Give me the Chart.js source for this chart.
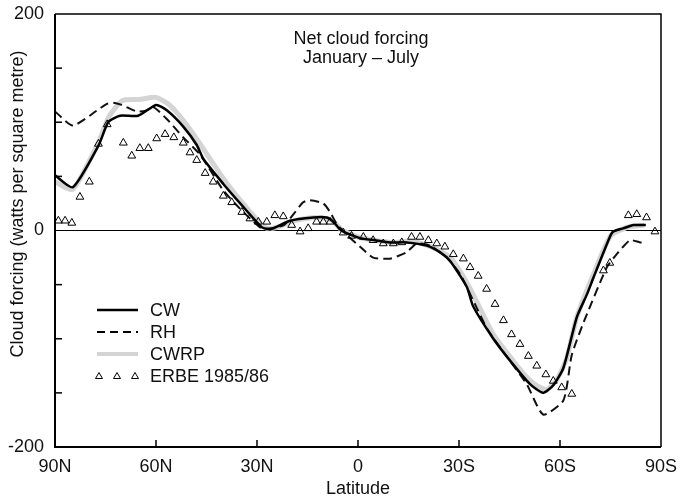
<!DOCTYPE html>
<html>
<head>
<meta charset="utf-8">
<script src="https://cdn.jsdelivr.net/npm/chart.js@4.4.0/dist/chart.umd.min.js"></script>
<style>
  html, body { margin:0; padding:0; background:#fff; }
</style>
</head>
<body>
<canvas id="grafico" width="694" height="500"></canvas>
<script>
// latitud: norte positivo, sur negativo
const cwLat = [90, 84.7, 77, 74.2, 70.7, 65.3, 60, 56.8, 51.9, 47.9, 45.9, 40, 35, 31, 28.6, 26, 20.2, 13.3, 9.3, 7.3, 5, -0.6, -5, -9.5, -14.5, -20.4, -24.3, -27.3, -32.3, -34.2, -40.2, -45.1, -51.1, -55, -58, -61, -65, -68, -70, -74.8, -75.8, -78.8, -81.8, -85.5];
const cwVal = [51, 40, 79, 100, 106, 106, 116, 111, 96, 79, 66, 43, 25, 11, 3, 1, 9, 12, 12, 8, 0, -7, -9, -11, -11, -14, -20, -28, -52, -70, -100, -120, -142, -150, -143, -127, -80, -59, -43, -6, -1, 2, 5, 5];

const rhLat = [90, 84.7, 77, 74.6, 72.7, 70.2, 65.7, 62.8, 60.8, 56.8, 51.9, 46.9, 40, 35, 31, 28.6, 26, 22, 20.2, 16.3, 14.3, 10.3, 8.3, 6.3, 3, -0.6, -4.5, -9.5, -14.5, -17.4, -21.4, -26.3, -30.3, -35.2, -38.2, -42.2, -50.1, -55, -61, -63.5, -67, -73.9, -76.8, -80.8, -83.8, -85];
const rhVal = [110, 97, 112, 117, 118, 116, 110, 111, 114, 103, 86, 70, 37, 20, 8, 2, 2, 5, 11, 26, 28, 25, 17, 6, -5, -15, -25, -26, -20, -12, -14, -25, -40, -71, -90, -108, -142, -170, -157, -115, -85, -34, -22, -9, -11, -11];

const cwrpLat = [90, 84.7, 77, 74, 70, 65, 60, 56, 52, 48, 40, 35, 30, 27, 24, 20, 13, 8, 5, 0, -5, -10, -15, -20, -25, -28, -33, -40, -45, -50, -53, -56, -59, -62, -65, -70, -75, -80, -85];
const cwrpVal = [45, 38, 82, 105, 120, 121, 123, 116, 102, 85, 48, 28, 10, 2, 3, 8, 12, 10, 1, -6, -9, -11, -10, -13, -20, -27, -52, -95, -116, -135, -143, -147, -138, -118, -80, -40, -5, 3, 5];

const erbeLat = [89, 87, 85, 82.6, 79.8, 77.1, 74.5, 69.7, 67.2, 64.8, 62.3, 59.8, 57.3, 54.7, 51.9, 49.9, 47.9, 45.4, 43, 40, 37.5, 34.5, 32.1, 29.6, 27.1, 24.7, 22.2, 19.7, 17.2, 14.8, 12.3, 10.3, 8.3, 4.4, 1.9, -1.6, -4.5, -7.5, -10.5, -13, -15.9, -18.4, -20.9, -23.4, -25.8, -28.3, -31.3, -33.3, -35.7, -38.2, -40.7, -43.2, -45.6, -48.1, -50.6, -53.1, -55.8, -58, -60.5, -63.5, -72.9, -74.8, -80.3, -82.8, -85.7, -88.2];
const erbeVal = [9, 9, 7, 31, 45, 80, 98, 81, 69, 76, 76, 85, 89, 86, 81, 72, 65, 53, 45, 32, 26, 17, 11, 8, 8, 14, 13, 5, -1, 2, 8, 8, 8, -2, -5, -6, -9, -12, -12, -11, -6, -6, -9, -12, -15, -22, -26, -34, -42, -54, -68, -83, -96, -105, -116, -125, -133, -139, -145, -151, -37, -30, 14, 15, 12, -1];

const etiquetasY = [200, 0, -200];
const marcasY = [150, 100, 50, -50, -100, -150];
const marcasX = [60, 30, 0, -30, -60];
const leyenda = ['CW', 'RH', 'CWRP', 'ERBE 1985/86'];

const FUENTE = '"Liberation Sans", Arial, sans-serif';
const GRIS = '#d4d4d4';
const puntos = (la, va) => la.map((l, i) => ({ x: l, y: va[i] }));

const marcoPlugin = {
    id: 'marco',
    beforeDatasetsDraw: (chart) => {
        const { ctx, chartArea: a, scales } = chart;
        const y0 = scales.y.getPixelForValue(0);
        ctx.save();
        ctx.strokeStyle = '#000'; ctx.lineWidth = 1;
        ctx.beginPath(); ctx.moveTo(a.left, y0); ctx.lineTo(a.right, y0); ctx.stroke();
        ctx.restore();
    },
    afterDraw: (chart) => {
        const { ctx, chartArea: a, scales } = chart;
        ctx.save();
        // marco
        ctx.strokeStyle = '#000';
        ctx.lineWidth = 1.5;
        ctx.beginPath(); ctx.moveTo(a.left, a.top); ctx.lineTo(a.right, a.top); ctx.lineTo(a.right, a.bottom); ctx.stroke();
        ctx.lineWidth = 2;
        ctx.beginPath(); ctx.moveTo(a.left, a.top); ctx.lineTo(a.left, a.bottom); ctx.lineTo(a.right, a.bottom); ctx.stroke();
        // marcas hacia dentro
        ctx.lineWidth = 1.5;
        marcasY.forEach(v => {
            const y = scales.y.getPixelForValue(v);
            ctx.beginPath(); ctx.moveTo(a.left, y); ctx.lineTo(a.left + 7, y); ctx.stroke();
        });
        marcasX.forEach(v => {
            const x = scales.x.getPixelForValue(v);
            ctx.beginPath(); ctx.moveTo(x, a.bottom); ctx.lineTo(x, a.bottom - 7); ctx.stroke();
        });
        // titulo
        ctx.fillStyle = '#111';
        ctx.font = '18px ' + FUENTE;
        ctx.textAlign = 'center'; ctx.textBaseline = 'middle';
        ctx.fillText('Net cloud forcing', 361, 39);
        ctx.fillText('January \u2013 July', 361, 58);
        // titulo eje y
        ctx.save();
        ctx.translate(18, 204); ctx.rotate(-Math.PI / 2);
        ctx.fillText('Cloud forcing (watts per square metre)', 0, 0);
        ctx.restore();
        // leyenda
        const filas = [310, 332, 354, 376];
        ctx.textAlign = 'left';
        leyenda.forEach((t, i) => ctx.fillText(t, 150, filas[i] + 1));
        ctx.strokeStyle = '#000'; ctx.lineWidth = 2.5;
        ctx.beginPath(); ctx.moveTo(97, filas[0]); ctx.lineTo(138, filas[0]); ctx.stroke();
        ctx.lineWidth = 2; ctx.setLineDash([8, 5]);
        ctx.beginPath(); ctx.moveTo(97, filas[1]); ctx.lineTo(138, filas[1]); ctx.stroke();
        ctx.setLineDash([]);
        ctx.strokeStyle = GRIS; ctx.lineWidth = 4;
        ctx.beginPath(); ctx.moveTo(97, filas[2]); ctx.lineTo(138, filas[2]); ctx.stroke();
        ctx.strokeStyle = '#000'; ctx.lineWidth = 1;
        [99, 117, 135].forEach(x => {
            const y = filas[3];
            ctx.beginPath(); ctx.moveTo(x, y - 3.5); ctx.lineTo(x + 3.5, y + 2.5); ctx.lineTo(x - 3.5, y + 2.5); ctx.closePath(); ctx.stroke();
        });
        ctx.restore();
    }
};

new Chart(document.getElementById('grafico').getContext('2d'), {
    type: 'line',
    data: {
        datasets: [
            { label: 'ERBE 1985/86', data: puntos(erbeLat, erbeVal), showLine: false, order: 1,
              pointStyle: 'triangle', pointRadius: 4.5, borderColor: '#000', backgroundColor: 'rgba(255,255,255,0)', pointBorderWidth: 1 },
            { label: 'CW', data: puntos(cwLat, cwVal), order: 2, borderColor: '#000', borderWidth: 2.5, pointRadius: 0, tension: 0.2 },
            { label: 'RH', data: puntos(rhLat, rhVal), order: 3, borderColor: '#111', borderWidth: 2, borderDash: [9, 5], pointRadius: 0, tension: 0.2 },
            { label: 'CWRP', data: puntos(cwrpLat, cwrpVal), order: 4, borderColor: GRIS, borderWidth: 5, pointRadius: 0, tension: 0.2 }
        ]
    },
    options: {
        responsive: false,
        animation: false,
        layout: { padding: { top: 14, right: 33, left: 0, bottom: 0 } },
        plugins: { legend: { display: false }, tooltip: { enabled: false } },
        scales: {
            x: {
                type: 'linear', min: -90, max: 90, reverse: true,
                afterFit: (s) => { s.height = 53; },
                grid: { display: false },
                border: { display: false },
                ticks: {
                    stepSize: 30, padding: 1, color: '#111', maxRotation: 0,
                    font: { size: 18, family: FUENTE },
                    callback: (v) => v > 0 ? v + 'N' : (v < 0 ? (-v) + 'S' : '0')
                },
                title: { display: true, text: 'Latitude', color: '#111', font: { size: 18, family: FUENTE }, padding: { top: 0, bottom: 0 } }
            },
            y: {
                min: -200, max: 200,
                afterFit: (s) => { s.width = 55; },
                afterBuildTicks: (s) => { s.ticks = etiquetasY.map(v => ({ value: v })); },
                grid: { display: false },
                border: { display: false },
                ticks: { padding: 3, color: '#111', font: { size: 18, family: FUENTE } }
            }
        }
    },
    plugins: [marcoPlugin]
});
</script>
</body>
</html>
